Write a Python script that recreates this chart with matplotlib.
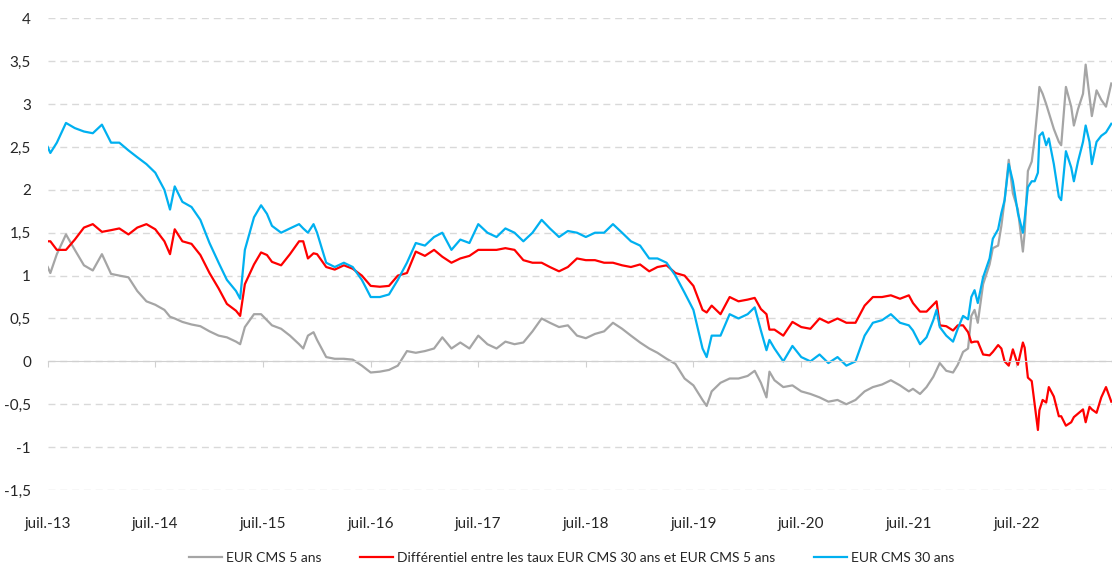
import numpy as np
import pandas as pd
import matplotlib
matplotlib.use("Agg")
import matplotlib.pyplot as plt
import matplotlib.dates as mdates
from matplotlib.ticker import FuncFormatter

# lecture approximative des courbes
dates = [
    "2013-07-01", "2013-07-10", "2013-08-01", "2013-09-01", "2013-10-01", "2013-11-01", "2013-12-01",
    "2014-01-01", "2014-02-01", "2014-03-01", "2014-04-01", "2014-05-01", "2014-06-01", "2014-07-01",
    "2014-08-01", "2014-08-20", "2014-09-05", "2014-10-01", "2014-11-01", "2014-12-01",
    "2015-01-01", "2015-02-01", "2015-03-01", "2015-04-01", "2015-04-15", "2015-05-01", "2015-06-01",
    "2015-06-25", "2015-07-15", "2015-08-01", "2015-09-01", "2015-10-01", "2015-11-01", "2015-11-15",
    "2015-12-01", "2015-12-20", "2016-01-01", "2016-02-01", "2016-03-01", "2016-04-01", "2016-05-01",
    "2016-06-01", "2016-07-01", "2016-08-01", "2016-09-01", "2016-10-01", "2016-11-01", "2016-12-01",
    "2017-01-01", "2017-02-01", "2017-03-01", "2017-04-01", "2017-05-01", "2017-06-01", "2017-07-01",
    "2017-08-01", "2017-09-01", "2017-10-01", "2017-11-01", "2017-12-01", "2018-01-01", "2018-02-01",
    "2018-03-01", "2018-04-01", "2018-05-01", "2018-06-01", "2018-07-01", "2018-08-01", "2018-09-01",
    "2018-10-01", "2018-11-01", "2018-12-01", "2019-01-01", "2019-02-01", "2019-03-01", "2019-04-01",
    "2019-05-01", "2019-06-01", "2019-07-01", "2019-08-01", "2019-08-15", "2019-09-01", "2019-10-01",
    "2019-11-01", "2019-12-01", "2020-01-01", "2020-01-25", "2020-02-15", "2020-03-05", "2020-03-15",
    "2020-04-01", "2020-05-01", "2020-06-01", "2020-07-01", "2020-08-01", "2020-09-01", "2020-10-01",
    "2020-11-01", "2020-12-01", "2021-01-01", "2021-02-01", "2021-03-01", "2021-04-01", "2021-05-01",
    "2021-06-01", "2021-07-01", "2021-07-15", "2021-08-08", "2021-08-30", "2021-09-22", "2021-10-03",
    "2021-10-14", "2021-11-05", "2021-11-28", "2021-12-14", "2022-01-01", "2022-01-18", "2022-01-29",
    "2022-02-09", "2022-02-20", "2022-03-10", "2022-04-01", "2022-04-12", "2022-04-30", "2022-05-11",
    "2022-05-22", "2022-06-05", "2022-06-19", "2022-07-06", "2022-07-23", "2022-07-29", "2022-08-09",
    "2022-08-22", "2022-09-01", "2022-09-12", "2022-09-17", "2022-09-28", "2022-10-10", "2022-10-19",
    "2022-11-05", "2022-11-22", "2022-11-30", "2022-12-16", "2023-01-03", "2023-01-12", "2023-01-26",
    "2023-02-12", "2023-02-21", "2023-03-06", "2023-03-14", "2023-03-30", "2023-04-15", "2023-05-01",
    "2023-05-19",
]

cms30 = [
    2.50, 2.43, 2.55, 2.78, 2.72, 2.68, 2.66,
    2.76, 2.55, 2.55, 2.46, 2.38, 2.30, 2.20,
    2.00, 1.77, 2.04, 1.86, 1.80, 1.65,
    1.38, 1.15, 0.95, 0.82, 0.73, 1.30, 1.68,
    1.82, 1.72, 1.58, 1.50, 1.55, 1.60, 1.55,
    1.50, 1.60, 1.50, 1.15, 1.10, 1.15, 1.10,
    0.95, 0.75, 0.75, 0.78, 0.95, 1.15, 1.38,
    1.35, 1.45, 1.50, 1.30, 1.42, 1.38, 1.60,
    1.50, 1.45, 1.55, 1.50, 1.40, 1.50, 1.65,
    1.55, 1.45, 1.52, 1.50, 1.45, 1.50, 1.50,
    1.60, 1.50, 1.40, 1.35, 1.20, 1.20, 1.15,
    1.00, 0.80, 0.60, 0.15, 0.05, 0.30, 0.30,
    0.55, 0.50, 0.55, 0.63, 0.36, 0.13, 0.25,
    0.15, 0.00, 0.18, 0.05, 0.00, 0.08, -0.02,
    0.05, -0.05, 0.00, 0.30, 0.45, 0.48, 0.55,
    0.45, 0.42, 0.36, 0.20, 0.28, 0.48, 0.60,
    0.40, 0.30, 0.23, 0.38, 0.53, 0.49, 0.75,
    0.83, 0.68, 0.98, 1.20, 1.43, 1.54, 1.73,
    1.88, 2.30, 2.10, 1.73, 1.50, 1.66, 2.03,
    2.10, 2.10, 2.20, 2.63, 2.67, 2.52, 2.60,
    2.30, 1.92, 1.88, 2.45, 2.26, 2.10, 2.33,
    2.56, 2.75, 2.56, 2.30, 2.56, 2.63, 2.67,
    2.77,
]

cms5 = [
    1.10, 1.03, 1.25, 1.48, 1.30, 1.12, 1.06,
    1.25, 1.02, 1.00, 0.98, 0.82, 0.70, 0.66,
    0.60, 0.52, 0.50, 0.46, 0.43, 0.41,
    0.35, 0.30, 0.28, 0.23, 0.20, 0.40, 0.55,
    0.55, 0.48, 0.42, 0.38, 0.30, 0.20, 0.15,
    0.30, 0.34, 0.25, 0.05, 0.03, 0.03, 0.02,
    -0.05, -0.13, -0.12, -0.10, -0.05, 0.12, 0.10,
    0.12, 0.15, 0.28, 0.15, 0.22, 0.15, 0.30,
    0.20, 0.15, 0.23, 0.20, 0.22, 0.35, 0.50,
    0.45, 0.40, 0.42, 0.30, 0.27, 0.32, 0.35,
    0.45, 0.38, 0.30, 0.22, 0.15, 0.10, 0.03,
    -0.03, -0.20, -0.28, -0.45, -0.52, -0.35, -0.25,
    -0.20, -0.20, -0.17, -0.11, -0.25, -0.42, -0.12,
    -0.22, -0.30, -0.28, -0.35, -0.38, -0.42, -0.47,
    -0.45, -0.50, -0.45, -0.35, -0.30, -0.27, -0.22,
    -0.28, -0.35, -0.32, -0.38, -0.30, -0.18, -0.10,
    -0.02, -0.11, -0.13, -0.04, 0.11, 0.15, 0.53,
    0.60, 0.45, 0.90, 1.13, 1.32, 1.35, 1.58,
    1.88, 2.35, 1.96, 1.77, 1.28, 1.50, 2.22,
    2.33, 2.60, 3.00, 3.20, 3.12, 3.00, 2.90,
    2.71, 2.56, 2.52, 3.20, 2.97, 2.75, 2.94,
    3.12, 3.46, 3.09, 2.86, 3.16, 3.05, 2.97,
    3.24,
]

x = pd.to_datetime(dates)
cms5 = np.array(cms5)
cms30 = np.array(cms30)
spread = cms30 - cms5  # différentiel 30 ans - 5 ans

labels = ["EUR CMS 5 ans",
          "Différentiel entre les taux EUR CMS 30 ans et EUR CMS 5 ans",
          "EUR CMS 30 ans"]

plt.rcParams['font.family'] = ['Lato', 'DejaVu Sans']

fig = plt.figure(figsize=(11.12, 5.67), dpi=100)
ax = fig.add_axes([0.0429, 0.1358, 0.957, 0.8319])

ax.plot(x, cms5, color='#A5A5A5', lw=1.6, label=labels[0])
ax.plot(x, spread, color='#FF0000', lw=1.6, label=labels[1])
ax.plot(x, cms30, color='#00B0F0', lw=1.6, label=labels[2])

ax.set_ylim(-1.5, 4)
ax.set_xlim(pd.Timestamp("2013-07-01"), pd.Timestamp("2023-05-21"))
ax.set_yticks(np.arange(-1.5, 4.01, 0.5))
ax.yaxis.set_major_formatter(FuncFormatter(lambda v, p: ('%g' % v).replace('.', ',')))
ax.grid(axis='y', color='#D9D9D9', lw=1, ls=(0, (5, 3.5)))
ax.set_axisbelow(True)

# axe horizontal sur le zéro
for s in ['top', 'right', 'left']:
    ax.spines[s].set_visible(False)
ax.spines['bottom'].set_position(('data', 0))
ax.spines['bottom'].set_color('#D0D0D0')
ax.xaxis.set_major_locator(mdates.MonthLocator(bymonth=7, bymonthday=1))
ax.xaxis.set_major_formatter(FuncFormatter(
    lambda v, p: 'juil.-' + mdates.num2date(v).strftime('%y')))
ax.tick_params(axis='x', length=4, color='#D0D0D0', pad=108, labelsize=11, labelcolor='#262626')
ax.tick_params(axis='y', length=0, pad=12, labelsize=11, labelcolor='#262626')

fig.legend(loc='center', bbox_to_anchor=(0.514, 0.016), ncol=3, frameon=False,
           fontsize=10, handlelength=2.4, handletextpad=0.25, columnspacing=2.8,
           labelcolor='#262626')

fig.savefig('out.png', dpi=100)
